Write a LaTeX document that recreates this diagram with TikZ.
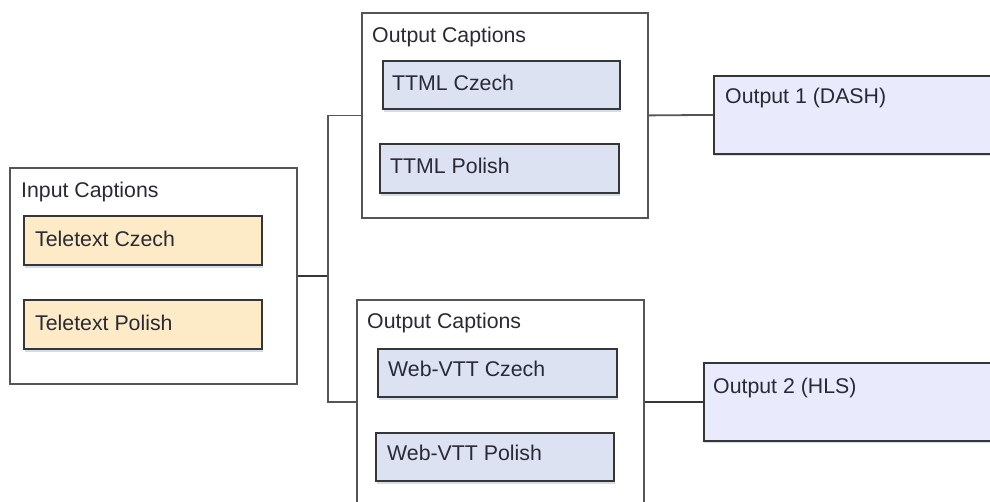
\documentclass[tikz,border=0pt]{standalone}
\usepackage{fontspec}
\setmainfont{Liberation Sans}
\usetikzlibrary{shadows}
\definecolor{txt}{HTML}{2A2A36}
\definecolor{outerln}{HTML}{555555}
\definecolor{innerln}{HTML}{363636}
\definecolor{yelfill}{HTML}{FCEBC6}
\definecolor{bluefill}{HTML}{DCE2F2}
\definecolor{lavfill}{HTML}{E9EAFB}
\definecolor{shad}{HTML}{B8C4DC}
\begin{document}
\begin{tikzpicture}[x=1pt,y=-1pt,
  outerbox/.style={draw=outerln,line width=1.8pt,fill=white,anchor=north west,inner sep=0pt},
  innerbox/.style={draw=innerln,line width=1.7pt,anchor=north west,inner sep=0pt,
    drop shadow={shadow xshift=1pt,shadow yshift=-3pt,fill=shad,opacity=0.6}},
  outbox/.style={draw=innerln,line width=1.8pt,fill=lavfill,anchor=north west,inner sep=0pt,
    drop shadow={shadow xshift=0pt,shadow yshift=-2pt,fill=shad,opacity=0.6}},
  lbl/.style={anchor=base west,inner sep=0pt,text=txt,font=\fontsize{21.3}{25}\selectfont},
  conn/.style={draw=outerln,line width=1.8pt}]
\useasboundingbox (0,0) rectangle (990,501);
\clip (0,0) rectangle (990,501);
% input
\node[outerbox,minimum width=287pt,minimum height=216pt] (inp) at (9,167) {};
\node[innerbox,fill=yelfill,minimum width=238pt,minimum height=49pt] (tc) at (23,215) {};
\node[innerbox,fill=yelfill,minimum width=238pt,minimum height=49pt] (tp) at (23,299) {};
\node[lbl] (tinp) at (21,197) {Input Captions};
\node[lbl] (ttc) at (35,246) {Teletext Czech};
\node[lbl] (ttp) at (35,330) {Teletext Polish};
% output captions 1
\node[outerbox,minimum width=286pt,minimum height=205pt] (oc1) at (361,12) {};
\node[innerbox,fill=bluefill,minimum width=237pt,minimum height=48pt] (mc) at (382,60) {};
\node[innerbox,fill=bluefill,minimum width=239pt,minimum height=49pt] (mp) at (379,143) {};
\node[lbl] (toc1) at (372,42) {Output Captions};
\node[lbl] (tmc) at (392,90) {TTML Czech};
\node[lbl] (tmp) at (390,173) {TTML Polish};
% output captions 2
\node[outerbox,minimum width=287pt,minimum height=204pt] (oc2) at (356,299) {};
\node[innerbox,fill=bluefill,minimum width=239pt,minimum height=48pt] (wc) at (377,348) {};
\node[innerbox,fill=bluefill,minimum width=238pt,minimum height=48pt] (wp) at (375,432) {};
\node[lbl] (toc2) at (367,328) {Output Captions};
\node[lbl] (twc) at (388,376) {Web-VTT Czech};
\node[lbl] (twp) at (387,460) {Web-VTT Polish};
% outputs
\node[outbox,minimum width=300pt,minimum height=78pt] (o1) at (713,75) {};
\node[outbox,minimum width=300pt,minimum height=78pt] (o2) at (703,362) {};
\node[lbl] (to1) at (725,103) {Output 1 (DASH)};
\node[lbl] (to2) at (713,393) {Output 2 (HLS)};
% connectors
\draw[conn,draw=innerln] (inp.east) -- ++(30,0) coordinate (j);
\draw[conn] (oc1.west) -| (j) |- (oc2.west);
\draw[conn] (oc1.east) -- (o1.west);
\draw[conn,draw=innerln] (oc2.east) -- (o2.west);
\end{tikzpicture}
\end{document}
